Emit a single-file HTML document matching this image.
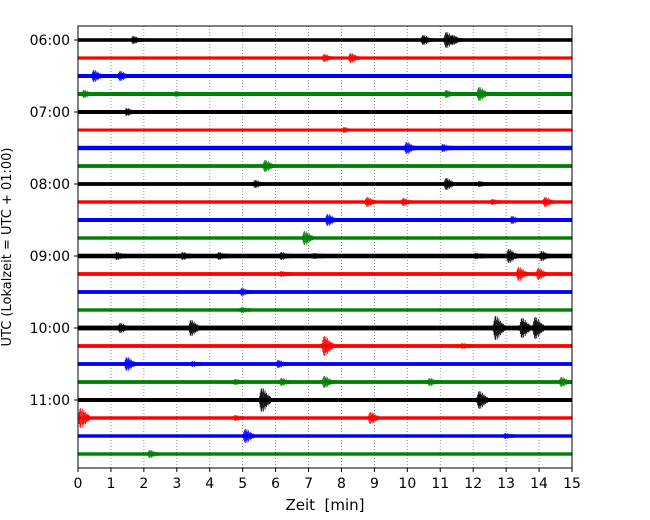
<!DOCTYPE html>
<html><head><meta charset="utf-8"><style>
body{margin:0;background:#fff}
svg{display:block;font-family:"DejaVu Sans","Liberation Sans",sans-serif}
</style></head><body>
<svg id="c" width="650" height="520"></svg>
<script>
const rowLabels=["06:00","","","","07:00","","","","08:00","","","","09:00","","","","10:00","","","","11:00","","",""];
const rowNoise=[1.8,1.6,2,2,2,1.5,2.2,1.9,1.9,1.7,2,1.7,2.3,1.9,1.9,1.7,2.4,1.9,1.9,1.9,2,1.7,1.7,1.7];
const xTicks=[0,1,2,3,4,5,6,7,8,9,10,11,12,13,14,15];
const evRow=[0,0,0,0,1,1,2,2,3,3,3,3,4,5,6,6,7,8,8,8,9,9,9,9,10,10,11,12,12,12,12,12,12,12,12,13,13,13,14,15,16,16,16,16,16,17,17,18,18,18,19,19,19,19,19,20,20,21,21,21,22,22,23];
const evTime=[1.7,10.5,11.2,11.4,7.5,8.3,0.5,1.3,0.2,3.0,12.2,11.2,1.5,8.1,10.0,11.1,5.7,5.4,11.2,12.2,8.8,9.9,14.2,12.6,7.6,13.2,6.9,1.2,3.2,4.3,6.2,7.2,13.1,14.1,12.1,13.4,14.0,6.2,5.0,5.0,1.3,3.45,12.7,13.5,13.9,7.5,11.7,1.5,6.1,3.5,6.2,7.5,10.7,14.7,4.8,5.6,12.2,0.1,8.9,4.8,5.1,13,2.2];
const evAmp=[4,5,8,5,4,5,6,5,4,3,7,4,4,3,6,4,6,4,6,3,5,4,5,3,6,4,7,4,4,4,4,3,7,5,3,7,6,3,4,3,5,8,12,10,11,10,3,7,4,3,4,6,4,5,3,12,9,10,6,3,7,3,4];
const colors=["#000","#f00","#00f","#008000"];
const L=78,R=572,T=26,B=468;
const xs=m=>L+(R-L)*m/15;
const ys=r=>40+r*18;
const NS="http://www.w3.org/2000/svg";
const svg=document.getElementById('c');
function mk(t,a,p){const e=document.createElementNS(NS,t);for(const k in a)e.setAttribute(k,a[k]);(p||svg).appendChild(e);return e;}
for(let i=1;i<15;i++){const g=mk('line',{x1:xs(i),x2:xs(i),y1:T,y2:B,stroke:'#777','stroke-width':0.8,'stroke-dasharray':'1,2'});

}
// envelope shape of a burst (styling only)
const env=[0.3,0.6,0.9,1,0.7,0.95,0.6,0.8,0.5,0.6,0.4,0.45,0.3,0.35,0.25];
rowNoise.forEach((n,r)=>{
 const col=colors[r%4];
 const b=mk('rect',{x:L,y:ys(r)-n,width:R-L,height:2*n,fill:col});
 
 
});
evRow.forEach((r,i)=>{
 const col=colors[r%4];const x0=xs(evTime[i]);const a=evAmp[i];
 const g=mk('g',{});
 
 
 env.forEach((p,k)=>{const h=Math.max(a*p,rowNoise[r]);
  mk('line',{x1:x0+k*0.8-3,x2:x0+k*0.8-3,y1:ys(r)-h,y2:ys(r)+h,stroke:col,'stroke-width':0.8},g);});
});
const f=mk('rect',{x:L,y:T,width:R-L,height:B-T,fill:'none',stroke:'#000','stroke-width':1});


xTicks.forEach(t=>{
 mk('line',{x1:xs(t),x2:xs(t),y1:B,y2:B+4,stroke:'#000'});
 const tx=mk('text',{x:xs(t),y:B+20,'text-anchor':'middle','font-size':14});tx.textContent=t;
 
 
});
rowLabels.forEach((l,r)=>{if(!l)return;
 mk('line',{x1:L-4,x2:L,y1:ys(r),y2:ys(r),stroke:'#000'});
 const tx=mk('text',{x:L-8,y:ys(r)+5,'text-anchor':'end','font-size':14});tx.textContent=l;
 
 
});
const xt=mk('text',{x:(L+R)/2,y:510,'text-anchor':'middle','font-size':15});xt.textContent='Zeit \u00a0[min]';


const yt=mk('text',{x:0,y:0,'text-anchor':'middle','font-size':13,transform:'translate(11,247) rotate(-90)'});yt.textContent='UTC (Lokalzeit = UTC + 01:00)';


</script>
</body></html>
